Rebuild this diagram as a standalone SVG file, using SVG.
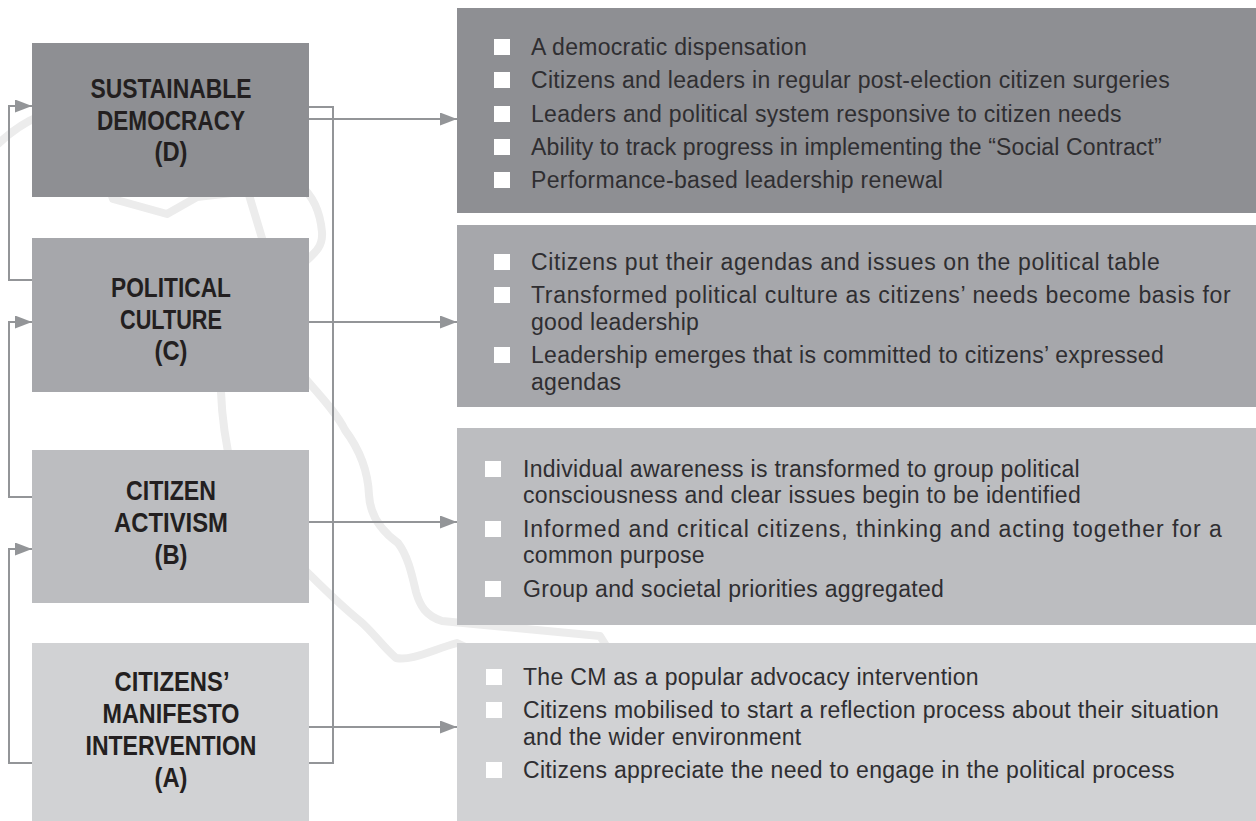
<svg xmlns="http://www.w3.org/2000/svg" width="1256" height="821" viewBox="0 0 1256 821">
  <defs>
    <style>
      .lvl-d { fill: #8e8f93; }
      .lvl-c { fill: #a6a7ab; }
      .lvl-b { fill: #bcbdc0; }
      .lvl-a { fill: #d1d2d4; }
      .title { font-family: "Liberation Sans", Arial, sans-serif; font-weight: bold; font-size: 27px; fill: #231f20; text-anchor: middle; }
      .item { font-family: "Liberation Sans", Arial, sans-serif; font-size: 23px; letter-spacing: 0.3px; fill: #2f2e31; }
      .bullet { fill: #ffffff; }
      .link { fill: none; stroke: #939598; stroke-width: 2; }
      .map { fill: none; stroke: #ececec; stroke-width: 8; stroke-linejoin: round; stroke-linecap: round; }
    </style>
    <marker id="arrow" markerUnits="userSpaceOnUse" markerWidth="17" markerHeight="13" refX="17" refY="6.5" orient="auto">
      <path d="M0,0 L17,6.5 L0,13 Z" fill="#939598"/>
    </marker>
  </defs>

  <rect width="1256" height="821" fill="#ffffff"/>

  <!-- faint country outline behind the chart -->
  <g id="map-outline">
    <path class="map" d="M -10,152 C 5,136 20,124 40,116 L 100,160 L 113,199 L 167,214 L 197,197 L 300,185 C 312,195 320,210 322,232 C 323,246 316,252 305,262 L 300,372 C 316,392 335,410 345,430 C 360,450 368,470 369,495 C 370,515 380,530 398,543 C 408,556 412,575 416,592 C 420,606 426,616 442,621 L 600,636 L 640,700"/>
    <path class="map" d="M 620,720 L 457,643 C 432,650 412,661 396,658 C 382,646 373,632 360,621 C 340,605 320,585 300,565 L 232,470 C 226,445 222,420 221,392 L 200,300"/>
    <path class="map" d="M 246,185 L 268,258"/>
  </g>

  <!-- connectors -->
  <g id="connectors">
    <!-- feedback loops on the left -->
    <path class="link" d="M32,280 H9 V106 H32" marker-end="url(#arrow)"/>
    <path class="link" d="M32,497 H9 V322 H32" marker-end="url(#arrow)"/>
    <path class="link" d="M32,763 H9 V549 H32" marker-end="url(#arrow)"/>
    <!-- right-hand spine from A back up to D -->
    <path class="link" d="M309,763 H333 V107 H309"/>
    <!-- outcome arrows -->
    <path class="link" d="M309,119 H457" marker-end="url(#arrow)"/>
    <path class="link" d="M309,322 H457" marker-end="url(#arrow)"/>
    <path class="link" d="M309,522 H457" marker-end="url(#arrow)"/>
    <path class="link" d="M309,727 H457" marker-end="url(#arrow)"/>
  </g>

  <!-- stage boxes -->
  <g id="node-d">
    <rect class="lvl-d" x="32" y="43" width="277" height="154"/>
    <text class="title" x="171" y="98" textLength="161" lengthAdjust="spacingAndGlyphs">SUSTAINABLE</text>
    <text class="title" x="171" y="130" textLength="148" lengthAdjust="spacingAndGlyphs">DEMOCRACY</text>
    <text class="title" x="171" y="161" textLength="33" lengthAdjust="spacingAndGlyphs">(D)</text>
  </g>
  <g id="node-c">
    <rect class="lvl-c" x="32" y="238" width="277" height="154"/>
    <text class="title" x="171" y="297" textLength="120" lengthAdjust="spacingAndGlyphs">POLITICAL</text>
    <text class="title" x="171" y="329" textLength="102" lengthAdjust="spacingAndGlyphs">CULTURE</text>
    <text class="title" x="171" y="360" textLength="33" lengthAdjust="spacingAndGlyphs">(C)</text>
  </g>
  <g id="node-b">
    <rect class="lvl-b" x="32" y="450" width="277" height="153"/>
    <text class="title" x="171" y="500" textLength="90" lengthAdjust="spacingAndGlyphs">CITIZEN</text>
    <text class="title" x="171" y="532" textLength="114" lengthAdjust="spacingAndGlyphs">ACTIVISM</text>
    <text class="title" x="171" y="564" textLength="33" lengthAdjust="spacingAndGlyphs">(B)</text>
  </g>
  <g id="node-a">
    <rect class="lvl-a" x="32" y="643" width="277" height="178"/>
    <text class="title" x="172" y="691" textLength="115" lengthAdjust="spacingAndGlyphs">CITIZENS’</text>
    <text class="title" x="171" y="723" textLength="137" lengthAdjust="spacingAndGlyphs">MANIFESTO</text>
    <text class="title" x="171" y="755" textLength="171" lengthAdjust="spacingAndGlyphs">INTERVENTION</text>
    <text class="title" x="171" y="787" textLength="33" lengthAdjust="spacingAndGlyphs">(A)</text>
  </g>

  <!-- outcome panels -->
  <g id="panel-d">
    <rect class="lvl-d" x="457" y="8" width="799" height="205"/>
    <rect class="bullet" x="494" y="39" width="16" height="16"/>
    <rect class="bullet" x="494" y="72" width="16" height="16"/>
    <rect class="bullet" x="494" y="106" width="16" height="16"/>
    <rect class="bullet" x="494" y="139" width="16" height="16"/>
    <rect class="bullet" x="494" y="172" width="16" height="16"/>
    <text class="item" x="531" y="55">A democratic dispensation</text>
    <text class="item" x="531" y="88">Citizens and leaders in regular post-election citizen surgeries</text>
    <text class="item" x="531" y="122">Leaders and political system responsive to citizen needs</text>
    <text class="item" x="531" y="155" textLength="631">Ability to track progress in implementing the “Social Contract”</text>
    <text class="item" x="531" y="188">Performance-based leadership renewal</text>
  </g>
  <g id="panel-c">
    <rect class="lvl-c" x="457" y="225" width="799" height="182"/>
    <rect class="bullet" x="494" y="254" width="16" height="16"/>
    <rect class="bullet" x="494" y="287" width="16" height="16"/>
    <rect class="bullet" x="494" y="347" width="16" height="16"/>
    <text class="item" x="531" y="270" textLength="629">Citizens put their agendas and issues on the political table</text>
    <text class="item" x="531" y="303" textLength="700">Transformed political culture as citizens’ needs become basis for</text>
    <text class="item" x="531" y="330">good leadership</text>
    <text class="item" x="531" y="363">Leadership emerges that is committed to citizens’ expressed</text>
    <text class="item" x="531" y="390">agendas</text>
  </g>
  <g id="panel-b">
    <rect class="lvl-b" x="457" y="428" width="799" height="197"/>
    <rect class="bullet" x="485" y="461" width="16" height="16"/>
    <rect class="bullet" x="485" y="521" width="16" height="16"/>
    <rect class="bullet" x="485" y="581" width="16" height="16"/>
    <text class="item" x="523" y="477">Individual awareness is transformed to group political</text>
    <text class="item" x="523" y="503">consciousness and clear issues begin to be identified</text>
    <text class="item" x="523" y="537" textLength="699">Informed and critical citizens, thinking and acting together for a</text>
    <text class="item" x="523" y="563">common purpose</text>
    <text class="item" x="523" y="597">Group and societal priorities aggregated</text>
  </g>
  <g id="panel-a">
    <rect class="lvl-a" x="457" y="643" width="799" height="178"/>
    <rect class="bullet" x="486" y="669" width="16" height="16"/>
    <rect class="bullet" x="486" y="702" width="16" height="16"/>
    <rect class="bullet" x="486" y="762" width="16" height="16"/>
    <text class="item" x="523" y="685">The CM as a popular advocacy intervention</text>
    <text class="item" x="523" y="718">Citizens mobilised to start a reflection process about their situation</text>
    <text class="item" x="523" y="745">and the wider environment</text>
    <text class="item" x="523" y="778">Citizens appreciate the need to engage in the political process</text>
  </g>
</svg>
